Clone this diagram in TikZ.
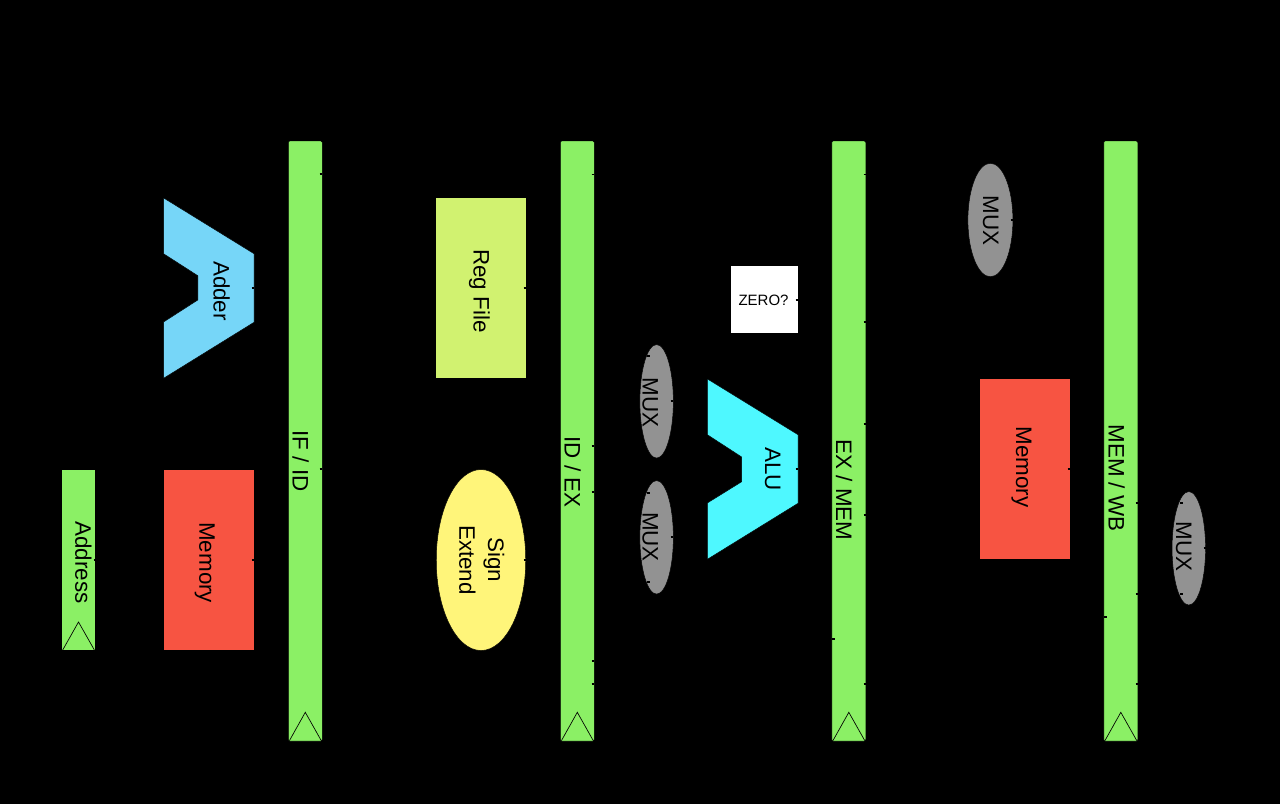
\documentclass[tikz,border=0pt]{standalone}
\usepackage{fontspec}
\setmainfont{Liberation Sans}
\usetikzlibrary{shapes.geometric}
\definecolor{bargreen}{RGB}{139,240,101}
\definecolor{adderblue}{RGB}{118,214,248}
\definecolor{alucyan}{RGB}{78,248,255}
\definecolor{memred}{RGB}{247,84,66}
\definecolor{regyellow}{RGB}{209,242,112}
\definecolor{signyellow}{RGB}{255,245,122}
\definecolor{muxgray}{RGB}{146,146,146}
\newcommand{\pxu}{pt*0.75}
\tikzset{
  shp/.style={draw=black,line width=0.35pt,inner sep=0pt,outer sep=0pt},
  bar/.style={shp,rectangle,fill=bargreen,rounded corners=1pt,minimum width=34\pxu,minimum height=600\pxu},
  addr/.style={shp,rectangle,fill=bargreen,minimum width=34\pxu,minimum height=181\pxu},
  box/.style={shp,rectangle,minimum width=90.5\pxu,minimum height=181\pxu},
  mux/.style={shp,ellipse,fill=muxgray,minimum width=33.5\pxu,minimum height=113.5\pxu},
  lbl/.style={anchor=base,rotate=-90,inner sep=0pt,text=black,font=\fontsize{16.8}{20}\selectfont},
  clk/.style={draw=black,line width=0.5pt,line join=miter},
  nub/.style={draw=black,line width=1.1pt}
}
\begin{document}
\begin{tikzpicture}[x=0.75pt,y=-0.75pt]
\fill[black] (0,0) rectangle (1280,804);
\useasboundingbox (0,0) rectangle (1280,804);
% pipeline bars
\node[bar] (ifid) at (305.3,441) {};
\node[bar] (idex) at (577.3,441) {};
\node[bar] (exmem) at (848.8,441) {};
\node[bar] (memwb) at (1120.8,441) {};
\node[addr] (pc) at (78.5,560) {};
\draw[clk] (289.5,740.5) -- (305.3,712.3) -- (321.2,740.5);
\draw[clk] (561.5,740.5) -- (577.3,712.3) -- (593.2,740.5);
\draw[clk] (833,740.5) -- (848.8,712.3) -- (864.7,740.5);
\draw[clk] (1105,740.5) -- (1120.8,712.3) -- (1136.7,740.5);
\draw[clk] (62.7,650) -- (78.5,622) -- (94.4,650);
% functional units
\draw[shp,fill=adderblue] (163.7,198) -- (254,253.7) -- (254,322.3) -- (163.7,378.2) -- (163.7,321.9) -- (197.8,300) -- (197.8,275.7) -- (163.7,253.8) -- cycle;
\draw[shp,fill=alucyan] (707.5,379) -- (798,434.7) -- (798,503.3) -- (707.5,559.2) -- (707.5,502.9) -- (741.7,481.7) -- (741.7,457) -- (707.5,434.8) -- cycle;
\node[box,fill=memred] (imem) at (208.8,560) {};
\node[box,fill=regyellow] (regs) at (480.8,288) {};
\node[box,fill=memred] (dmem) at (1024.5,469) {};
\node[shp,ellipse,fill=signyellow,minimum width=89.5\pxu,minimum height=181\pxu] (sext) at (481,560) {};
\node[shp,rectangle,fill=white,minimum width=68\pxu,minimum height=67.5\pxu] (zero) at (764,299.3) {};
\node[mux] (mux1) at (656.6,401.3) {};
\node[mux] (mux2) at (656.6,537.3) {};
\node[mux,minimum width=45\pxu] (mux3) at (990.4,220) {};
\node[mux] (mux4) at (1188.8,548.3) {};
% connector stubs at shape edges
\foreach \x/\y in {321/174,321/469,253/288,95/560,253/560,525/288,593/174.5,593/446,593/492,593/661,593/684,672/401,672/537,525/560,797/300,797/469,865/174.5,865/322,865/424,865/515,865/684,1012/220,1069/469,1137/503,1137/594,1137/684,1205/548}
  \draw[nub] (\x-1.5,\y) -- (\x+1,\y);
\foreach \x/\y in {833/639,1105/617}
  \draw[nub] (\x-1,\y) -- (\x+1.5,\y);
\foreach \x/\y in {648/356,648/493,648/582,1181/503,1181/594}
  \draw[nub] (\x-1,\y) -- (\x+2,\y);
% labels
\node[lbl] (tpc) at (75.3,562.5) {Address};
\node[lbl] (tadd) at (213.5,291) {Adder};
\node[lbl] (timem) at (199.3,562.7) {Memory};
\node[lbl] (tifid) at (292.5,461) {IF / ID};
\node[lbl] (treg) at (473.5,291) {Reg File};
\node[lbl] (tsign) at (488,560) {Sign};
\node[lbl] (text) at (459.3,560) {Extend};
\node[lbl] (tidex) at (564.5,472) {ID / EX};
\node[lbl] (tm1) at (642.7,402.5) {MUX};
\node[lbl] (tm2) at (642.7,537) {MUX};
\node[lbl] (talu) at (765.2,469) {ALU};
\node[inner sep=0pt,anchor=base,font=\fontsize{11.25}{14}\selectfont] (tzero) at (763.5,305.7) {ZERO?};
\node[lbl] (texmem) at (836,490) {EX / MEM};
\node[lbl] (tm3) at (983,220.5) {MUX};
\node[lbl] (tdmem) at (1016.2,467) {Memory};
\node[lbl] (tmemwb) at (1108.5,478) {MEM / WB};
\node[lbl] (tm4) at (1176,546.5) {MUX};
\end{tikzpicture}
\end{document}
